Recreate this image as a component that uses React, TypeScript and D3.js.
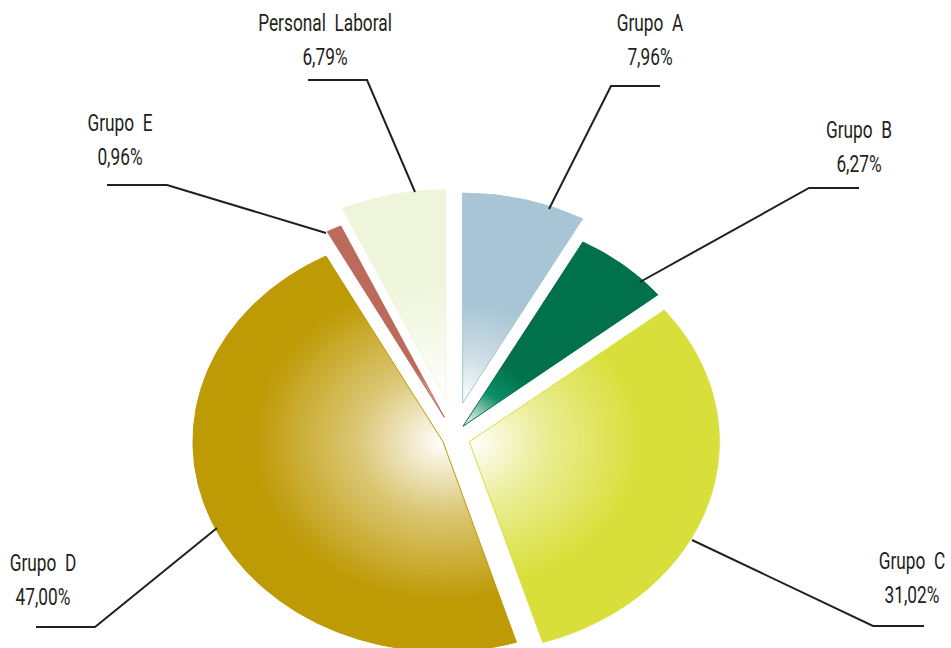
import React from "react";
import * as d3 from "d3";

const categories = ["Grupo A", "Grupo B", "Grupo C", "Grupo D", "Grupo E", "Personal Laboral"];
const values = [7.96, 6.27, 31.02, 47.0, 0.96, 6.79];

// styling / layout (not data)
const colors = ["#a7c5d4", "#00714a", "#d9df3a", "#be9a04", "#bb6a5b", "#eef5da"];
const explode = [35, 14, 16, 12, 22, 38];
const gradRadius = [120, 85, 170, 190, 60, 150];
const labelLayout = [
  { tx: 650, ty: 31, pts: [[660, 86], [611, 86], [549, 209]] },
  { tx: 859, ty: 138, pts: [[859, 188], [809, 188], [640, 282]] },
  { tx: 912, ty: 569, pts: [[924, 626], [873, 626], [692, 540]] },
  { tx: 43, ty: 571, pts: [[36, 627], [95, 627], [217, 528]] },
  { tx: 120, ty: 131, pts: [[107, 185], [167, 185], [326, 233]] },
  { tx: 325, ty: 31, pts: [[308, 80], [367, 80], [415, 192]] },
];

const W = 951;
const H = 648;
const CX = 454;
const CY = 437;
const RX = 250;
const RY = 210;
const TEXT_SX = 0.72;

const fmt = (v: number) => d3.format(".2f")(v).replace(".", ",") + "%";

export default function App() {
  const pie = d3
    .pie<number>()
    .sort(null)
    .value((d) => d)
    .startAngle(0)
    .endAngle(2 * Math.PI);
  const arcs = pie(values);
  const arc = d3.arc<d3.PieArcDatum<number>>().innerRadius(0).outerRadius(RX);
  const line = d3.line();
  const font = "Roboto, 'Open Sans', sans-serif";

  return (
    <svg
      width={W}
      height={H}
      style={{ position: "absolute", left: 0, top: 0, background: "#fff" }}
    >
      <defs>
        {arcs.map((a, i) => {
          const c = d3.color(colors[i])!;
          const isDarkGreen = i === 1;
          return (
            <radialGradient
              key={i}
              id={`g${i}`}
              gradientUnits="userSpaceOnUse"
              cx={0}
              cy={0}
              r={gradRadius[i]}
            >
              <stop offset="0" stopColor="#ffffff" />
              {isDarkGreen ? (
                <>
                  <stop offset="0.3" stopColor="#8cc4b0" />
                  <stop offset="0.55" stopColor="#0a8f68" />
                </>
              ) : (
                <stop offset="0.45" stopColor={d3.interpolateRgb("#ffffff", c.formatHex())(0.55)} />
              )}
              <stop offset="1" stopColor={colors[i]} />
            </radialGradient>
          );
        })}
      </defs>
      {arcs.map((a, i) => {
        const mid = (a.startAngle + a.endAngle) / 2;
        const ox = CX + explode[i] * Math.sin(mid);
        const oy = CY - explode[i] * Math.cos(mid);
        return (
          <g key={i} transform={`translate(${ox},${oy})`}>
            <path
              d={arc(a) || ""}
              transform={`scale(1,${RY / RX})`}
              fill={`url(#g${i})`}
              stroke={colors[i]}
              strokeWidth={1}
              vectorEffect="non-scaling-stroke"
            />
          </g>
        );
      })}
      {labelLayout.map((l, i) => (
        <g key={`l${i}`}>
          <path
            d={line(l.pts as [number, number][]) || ""}
            fill="none"
            stroke="#231f20"
            strokeWidth={2}
          />
          <text
            transform={`translate(${l.tx},${l.ty}) scale(${TEXT_SX},1)`}
            textAnchor="middle"
            fontFamily={font}
            fontWeight={400}
            fontSize={24}
            fill="#231f20"
            wordSpacing={6}
          >
            {categories[i]}
          </text>
          <text
            transform={`translate(${l.tx},${l.ty + 34}) scale(${TEXT_SX},1)`}
            textAnchor="middle"
            fontFamily={font}
            fontWeight={400}
            fontSize={24}
            fill="#231f20"
          >
            {fmt(values[i])}
          </text>
        </g>
      ))}
    </svg>
  );
}
